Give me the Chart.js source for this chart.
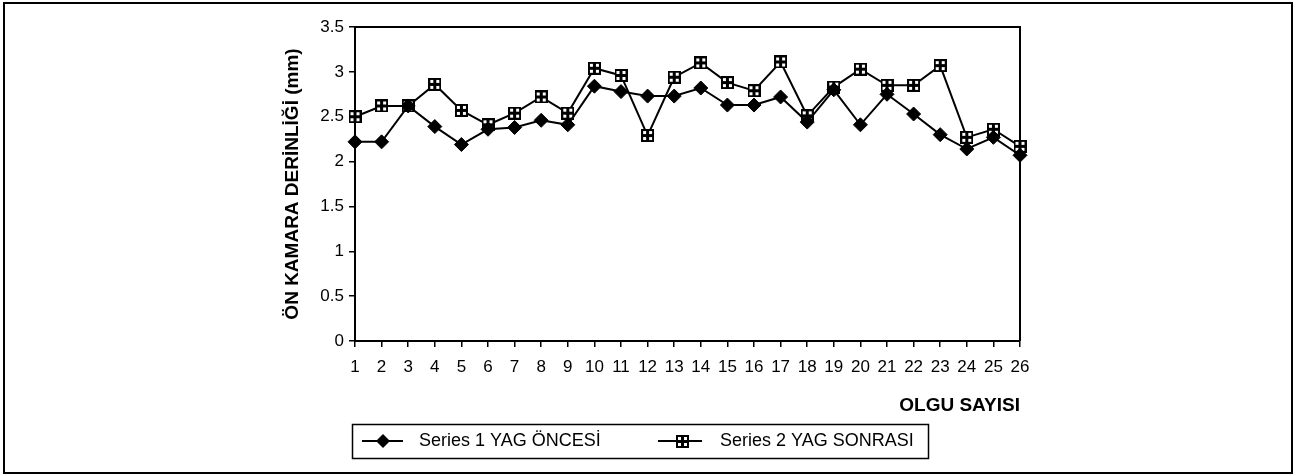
<!DOCTYPE html>
<html>
<head>
<meta charset="utf-8">
<script src="https://cdn.jsdelivr.net/npm/chart.js@4/dist/chart.umd.min.js"></script>
<style>
  html, body { margin: 0; padding: 0; background: #fff; }
  #wrap { width: 1299px; height: 476px; position: relative; }
</style>
</head>
<body>
<div id="wrap"><canvas id="c" width="1299" height="476"></canvas></div>
<script>
const categories = ['1','2','3','4','5','6','7','8','9','10','11','12','13','14','15','16','17','18','19','20','21','22','23','24','25','26'];
const series1Name = 'Series 1 YAG ÖNCESİ';
const series2Name = 'Series 2 YAG SONRASI';
const series1 = [2.22,2.22,2.62,2.39,2.19,2.36,2.38,2.46,2.41,2.84,2.78,2.73,2.73,2.82,2.63,2.63,2.72,2.44,2.80,2.41,2.75,2.53,2.30,2.14,2.27,2.07];
const series2 = [2.50,2.62,2.62,2.86,2.57,2.41,2.54,2.72,2.54,3.04,2.96,2.29,2.94,3.10,2.88,2.79,3.11,2.51,2.83,3.03,2.85,2.85,3.07,2.27,2.36,2.17];
const yTitle = 'ÖN KAMARA DERİNLİĞİ (mm)';
const xTitle = 'OLGU SAYISI';
const yMin = 0, yMax = 3.5, yStep = 0.5;

const FONT = "'Liberation Sans', Arial, sans-serif";

// square marker with inner pattern
function makeSquareMarker() {
  const c = document.createElement('canvas');
  c.width = 13; c.height = 13;
  const g = c.getContext('2d');
  g.fillStyle = '#000';
  g.fillRect(0, 0, 13, 13);
  g.fillStyle = '#fff';
  g.fillRect(2, 2, 3, 3);
  g.fillRect(8, 2, 3, 3);
  g.fillRect(2, 8, 3, 3);
  g.fillRect(8, 8, 3, 3);
  return c;
}
const sqMarker = makeSquareMarker();

const framePlugin = {
  id: 'framePlugin',
  afterDraw(chart) {
    const ctx = chart.ctx;
    const a = chart.chartArea;
    ctx.save();
    ctx.strokeStyle = '#000';
    ctx.lineWidth = 2;
    ctx.beginPath();
    ctx.moveTo(a.left, a.top);
    ctx.lineTo(a.right, a.top);
    ctx.lineTo(a.right, a.bottom);
    ctx.stroke();
    // outer frame
    ctx.lineWidth = 2;
    ctx.strokeRect(4, 3, 1288, 470);
    // legend box
    ctx.lineWidth = 1.5;
    ctx.strokeRect(352.5, 424.5, 576, 34);
    const ly = 441;
    ctx.lineWidth = 2;
    ctx.beginPath();
    ctx.moveTo(362, ly); ctx.lineTo(403, ly);
    ctx.moveTo(658, ly); ctx.lineTo(702, ly);
    ctx.stroke();
    ctx.fillStyle = '#000';
    ctx.beginPath();
    ctx.moveTo(383, ly - 7); ctx.lineTo(390, ly); ctx.lineTo(383, ly + 7); ctx.lineTo(376, ly);
    ctx.closePath(); ctx.fill();
    ctx.drawImage(sqMarker, 682 - 6, ly - 6);
    ctx.font = "18px " + FONT;
    ctx.textBaseline = 'middle';
    ctx.textAlign = 'left';
    ctx.fillStyle = '#000';
    ctx.fillText(series1Name, 419, ly);
    ctx.fillText(series2Name, 720, ly);
    ctx.restore();
  }
};

new Chart(document.getElementById('c'), {
  type: 'line',
  data: {
    labels: categories,
    datasets: [
      {
        label: series1Name,
        data: series1,
        borderColor: '#000',
        backgroundColor: '#000',
        borderWidth: 2,
        pointStyle: 'rectRot',
        pointRadius: 7,
        pointBorderWidth: 1,
        pointBackgroundColor: '#000',
        pointBorderColor: '#000',
        tension: 0,
        fill: false
      },
      {
        label: series2Name,
        data: series2,
        borderColor: '#000',
        backgroundColor: '#fff',
        borderWidth: 2,
        pointStyle: sqMarker,
        pointRadius: 6,
        tension: 0,
        fill: false
      }
    ]
  },
  options: {
    responsive: false,
    animation: false,
    devicePixelRatio: 1,
    layout: { padding: { left: 270, right: 279, top: 27, bottom: 59 } },
    plugins: { legend: { display: false }, tooltip: { enabled: false } },
    scales: {
      x: {
        type: 'category',
        offset: false,
        afterFit(s) { s.height = 76; },
        grid: { display: true, drawOnChartArea: false, drawTicks: true, tickLength: 6, color: '#000', lineWidth: 1.5 },
        border: { display: true, color: '#000', width: 2 },
        ticks: { color: '#000', font: { family: FONT, size: 17 }, padding: 10, maxRotation: 0, autoSkip: false },
        title: { display: true, text: xTitle, align: 'end', color: '#000', font: { family: FONT, size: 19, weight: 'bold' }, padding: { top: 0, bottom: 0 } }
      },
      y: {
        min: yMin, max: yMax,
        afterFit(s) { s.width = 85; },
        grid: { display: true, drawOnChartArea: false, drawTicks: true, tickLength: 6, color: '#000', lineWidth: 1.5 },
        border: { display: true, color: '#000', width: 2 },
        ticks: { stepSize: yStep, color: '#000', font: { family: FONT, size: 17 }, padding: 5, callback: (v) => String(v) },
        title: { display: true, text: yTitle, color: '#000', font: { family: FONT, size: 19, weight: 'bold' }, padding: { top: 11, bottom: 0 } }
      }
    }
  },
  plugins: [framePlugin]
});
</script>
</body>
</html>
